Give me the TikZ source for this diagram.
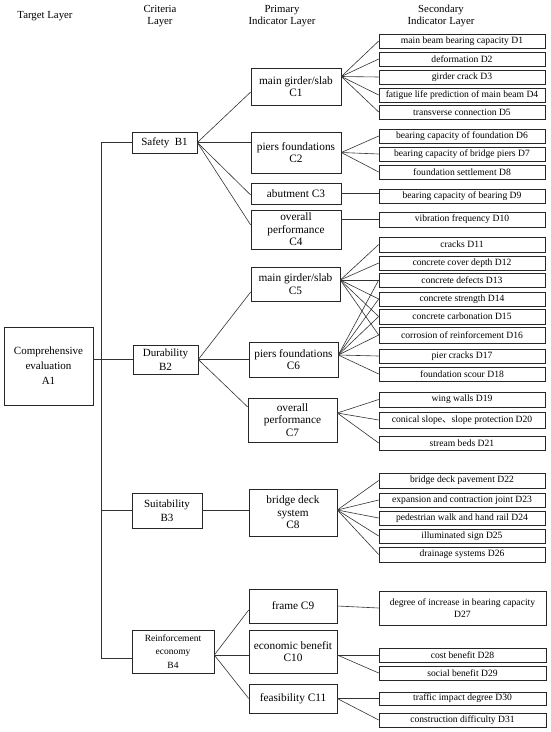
\documentclass[tikz,border=0pt]{standalone}
\usepackage{fontspec}
\setmainfont{Liberation Serif}
\newfontfamily\cjk{Noto Sans CJK SC}
\newcommand\fD{\fontsize{9.6}{12}\selectfont}
\newcommand\fC{\fontsize{11.3}{12.5}\selectfont}
\newcommand\fB{\fontsize{11}{13.5}\selectfont}
\newcommand\fBs{\fontsize{9.5}{13.5}\selectfont}
\newcommand\fA{\fontsize{11}{15}\selectfont}
\newcommand\fH{\fontsize{10.8}{12}\selectfont}
% name, x1, y1, x2, y2, font, text
\newcommand\drawbox[7]{\node[box,font=#6,minimum width={(#4-#2)*1pt},minimum height={(#5-#3)*1pt}] (#1) at ({(#2+#4)/2},{(#3+#5)/2}) {#7};}
\begin{document}
\begin{tikzpicture}[x=1pt,y=-1pt,
  box/.style={draw=black!85, line width=0.6pt, inner sep=0pt, align=center},
  ln/.style={draw=black!80, line width=0.6pt},
  hd/.style={font=\fH, align=center, inner sep=0pt}]
\useasboundingbox[fill=white] (0,0) rectangle (550,732);

% headers
\node[hd] (H1) at (45,16) {Target Layer};
\node[hd] (H2) at (160,16) {Criteria\\Layer};
\node[hd] (H3) at (282,16) {Primary\\Indicator Layer};
\node[hd] (H4) at (441,16) {Secondary\\Indicator Layer};

% target
\drawbox{A1}{4}{327}{93}{405}{\fA}{Comprehensive\\evaluation\\A1}

% criteria
\drawbox{B1}{132}{132}{197}{153}{\fB}{Safety\ \ B1}
\drawbox{B2}{133}{345}{198}{374}{\fB}{Durability\\B2}
\drawbox{B3}{132}{493}{202}{528}{\fB}{Suitability\\B3}
\drawbox{B4}{132}{630}{214}{673}{\fBs}{Reinforcement\\economy\\B4}

% primary
\drawbox{C1}{251}{68}{341}{105}{\fC}{main girder/slab\\C1}
\drawbox{C2}{251}{132}{341}{173}{\fC}{piers foundations\\C2}
\drawbox{C3}{251}{183}{341}{204}{\fC}{abutment C3}
\drawbox{C4}{251}{210}{341}{249}{\fC}{overall\\performance\\C4}
\drawbox{C5}{251}{267}{340}{301}{\fC}{main girder/slab\\C5}
\drawbox{C6}{249}{342}{338}{377}{\fC}{piers foundations\\C6}
\drawbox{C7}{248}{398}{337}{442}{\fC}{overall\\performance\\C7}
\drawbox{C8}{249}{489}{337}{536}{\fC}{bridge deck\\system\\C8}
\drawbox{C9}{249}{589}{337}{623}{\fC}{frame C9}
\drawbox{C10}{249}{630}{337}{673}{\fC}{economic benefit\\C10}
\drawbox{C11}{249}{684}{337}{713}{\fC}{feasibility C11}

% secondary
\drawbox{D1}{379}{34}{545}{48}{\fD}{main beam bearing capacity D1}
\drawbox{D2}{379}{52}{545}{66}{\fD}{deformation D2}
\drawbox{D3}{379}{70}{545}{84}{\fD}{girder crack D3}
\drawbox{D4}{379}{88}{545}{102}{\fD}{fatigue life prediction of main beam D4}
\drawbox{D5}{379}{105}{545}{119}{\fD}{transverse connection D5}
\drawbox{D6}{379}{129}{545}{143}{\fD}{bearing capacity of foundation D6}
\drawbox{D7}{379}{147}{545}{161}{\fD}{bearing capacity of bridge piers D7}
\drawbox{D8}{379}{165}{545}{179}{\fD}{foundation settlement D8}
\drawbox{D9}{379}{189}{545}{203}{\fD}{bearing capacity of bearing D9}
\drawbox{D10}{379}{212}{545}{227}{\fD}{vibration frequency D10}
\drawbox{D11}{379}{237}{545}{252}{\fD}{cracks D11}
\drawbox{D12}{379}{256}{545}{270}{\fD}{concrete cover depth D12}
\drawbox{D13}{379}{273}{545}{287}{\fD}{concrete defects D13}
\drawbox{D14}{379}{292}{545}{306}{\fD}{concrete strength D14}
\drawbox{D15}{379}{309}{545}{324}{\fD}{concrete carbonation D15}
\drawbox{D16}{379}{327}{545}{343}{\fD}{corrosion of reinforcement D16}
\drawbox{D17}{379}{349}{545}{363}{\fD}{pier cracks D17}
\drawbox{D18}{379}{367}{545}{381}{\fD}{foundation scour D18}
\drawbox{D19}{379}{392}{545}{407}{\fD}{wing walls D19}
\drawbox{D20}{379}{412}{545}{428}{\fD}{conical slope{\cjk 、}slope protection D20}
\drawbox{D21}{379}{436}{545}{450}{\fD}{stream beds D21}
\drawbox{D22}{379}{473}{545}{488}{\fD}{bridge deck pavement D22}
\drawbox{D23}{379}{493}{545}{507}{\fD}{expansion and contraction joint D23}
\drawbox{D24}{379}{511}{545}{525}{\fD}{pedestrian walk and hand rail D24}
\drawbox{D25}{379}{529}{545}{543}{\fD}{illuminated sign D25}
\drawbox{D26}{379}{547}{545}{562}{\fD}{drainage systems D26}
\drawbox{D27}{379}{591}{546}{625}{\fD}{degree of increase in bearing capacity\\D27}
\drawbox{D28}{379}{648}{546}{662}{\fD}{cost benefit D28}
\drawbox{D29}{379}{666}{546}{680}{\fD}{social benefit D29}
\drawbox{D30}{379}{692}{546}{705}{\fD}{traffic impact degree D30}
\drawbox{D31}{379}{713}{546}{727}{\fD}{construction difficulty D31}

% trunk A -> B
\coordinate (T1) at (101.5,142.5);
\coordinate (T2) at (101.5,658);
\draw[ln] (B1.west) -- (T1) -- (T2) -- (T2 -| B4.west);
\draw[ln] (A1.east |- B2.west) -- (B2.west);
\draw[ln] (T1 |- B3.west) -- (B3.west);

% B -> C
\draw[ln] (B1.east) -- ([yshift=-5.5pt]C1.west);
\draw[ln] (B1.east) -- (B1.east -| C2.west);
\draw[ln] (B1.east) -- ([yshift=-1.5pt]C3.west);
\draw[ln] (B1.east) -- ([yshift=4.5pt]C4.west);
\draw[ln] (B2.east) -- ([yshift=-8pt]C5.west);
\draw[ln] (B2.east) -- (B2.east -| C6.west);
\draw[ln] (B2.east) -- ([yshift=13pt]C7.west);
\draw[ln] (B3.east) -- (B3.east -| C8.west);
\coordinate (P4) at ([yshift=-3.5pt]B4.east);
\draw[ln] (P4) -- ([yshift=-4pt]C9.west);
\draw[ln] (P4) -- (P4 -| C10.west);
\draw[ln] (P4) -- (C11.west);

% C -> D
\coordinate (Q1) at ([yshift=10pt]C1.east);
\foreach \d in {D1,D2,D3,D4,D5} \draw[ln] (Q1) -- (\d.west);
\foreach \d in {D6,D7,D8} \draw[ln] (C2.east) -- (\d.west);
\draw[ln] (C3.east) -- (C3.east -| D9.west);
\draw[ln] (C4.east |- D10.west) -- (D10.west);
\coordinate (Q5) at ([yshift=4pt]C5.east);
\foreach \d in {D11,D12,D13,D14,D15,D16} \draw[ln] (Q5) -- (\d.west);
\coordinate (Q6) at ([yshift=4.5pt]C6.east);
\foreach \d in {D13,D14,D15,D16,D17,D18} \draw[ln] (Q6) -- (\d.west);
\coordinate (Q7) at ([yshift=7pt]C7.east);
\foreach \d in {D19,D20,D21} \draw[ln] (Q7) -- (\d.west);
\coordinate (Q8) at ([yshift=2.5pt]C8.east);
\foreach \d in {D22,D23,D24,D25,D26} \draw[ln] (Q8) -- (\d.west);
\draw[ln] (C9.east) -- (D27.west);
\coordinate (Q10) at ([yshift=-3.5pt]C10.east);
\foreach \d in {D28,D29} \draw[ln] (Q10) -- (\d.west);
\foreach \d in {D30,D31} \draw[ln] (C11.east) -- (\d.west);
\end{tikzpicture}
\end{document}
